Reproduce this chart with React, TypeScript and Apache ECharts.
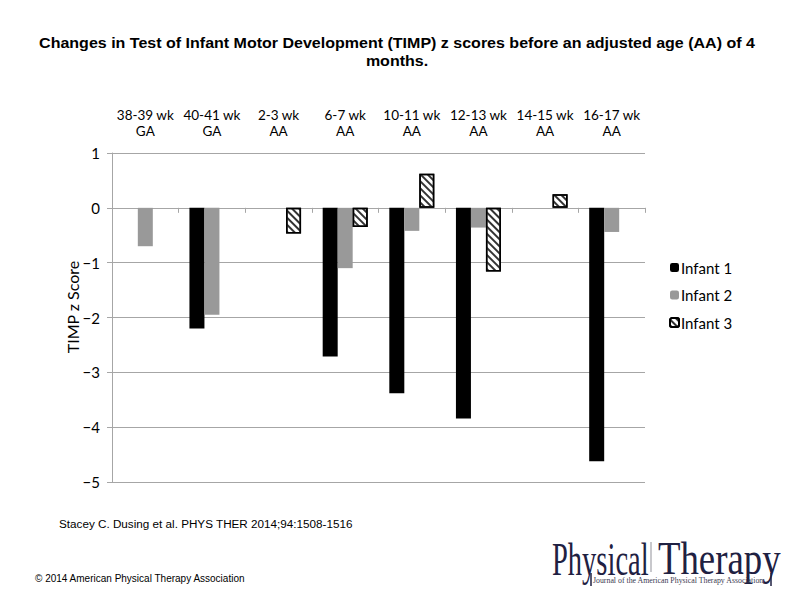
import React, { useEffect, useRef } from "react";
import * as echarts from "echarts";

const categories = [
  "38-39 wk\nGA",
  "40-41 wk\nGA",
  "2-3 wk\nAA",
  "6-7 wk\nAA",
  "10-11 wk\nAA",
  "12-13 wk\nAA",
  "14-15 wk\nAA",
  "16-17 wk\nAA",
];
const infant1 = [null, -2.2, null, -2.71, -3.38, -3.84, null, -4.62];
const infant2 = [-0.7, -1.95, null, -1.1, -0.42, -0.36, null, -0.44];
const infant3 = [null, null, -0.47, -0.35, 0.62, -1.16, 0.25, null];
const yTicks = { min: -5, max: 1, interval: 1 };

const titleText =
  "Changes in Test of Infant Motor Development (TIMP) z scores before an adjusted age (AA) of 4\nmonths.";

export default function App() {
  const ref = useRef<HTMLDivElement>(null);
  useEffect(() => {
    if (!ref.current) return;
    const chart = echarts.init(ref.current, null, { renderer: "svg" });
    const axisFont = "Lato, 'Noto Sans', sans-serif";
    const arial = "'Liberation Sans', Arial, sans-serif";
    const serif = "'Liberation Serif', 'DejaVu Serif', serif";
    chart.setOption({
      animation: false,
      backgroundColor: "#fff",
      legend: {
        orient: "vertical",
        left: 664,
        top: 255,
        itemWidth: 9,
        itemHeight: 9,
        itemGap: 12.5,
        textStyle: { fontFamily: axisFont, fontSize: 15, color: "#000", padding: [0, 0, 0, -3] },
        data: ["Infant 1", "Infant 2", "Infant 3"],
      },
      grid: { left: 112, right: 149, top: 153, bottom: 113, containLabel: false },
      xAxis: [
        {
          type: "category",
          data: categories,
          axisLine: { onZero: true, lineStyle: { color: "#a6a6a6", width: 1 } },
          axisTick: { show: true, length: 5, lineStyle: { color: "#a6a6a6" } },
          axisLabel: { show: false },
          splitLine: { show: false },
        },
        {
          type: "category",
          position: "top",
          data: categories,
          axisLine: { show: false },
          axisTick: { show: false },
          axisLabel: {
            fontFamily: axisFont,
            fontSize: 13.5,
            lineHeight: 16,
            color: "#000",
            margin: 14,
            interval: 0,
          },
        },
      ],
      yAxis: {
        type: "value",
        min: yTicks.min,
        max: yTicks.max,
        interval: yTicks.interval,
        axisLine: { show: true, lineStyle: { color: "#a6a6a6" } },
        axisTick: { show: true, length: 5, lineStyle: { color: "#a6a6a6" } },
        axisLabel: {
          fontFamily: axisFont,
          fontSize: 15,
          color: "#000",
          margin: 12,
          formatter: (v: number) => String(v).replace("-", "\u2212"),
        },
        splitLine: { show: true, lineStyle: { color: "#a6a6a6", width: 1 } },
      },
      series: [
        {
          name: "Infant 1",
          type: "bar",
          data: infant1,
          barWidth: 15,
          barGap: "0%",
          itemStyle: { color: "#000" },
        },
        {
          name: "Infant 2",
          type: "bar",
          data: infant2,
          barWidth: 15,
          barGap: "0%",
          itemStyle: { color: "#999999" },
        },
        {
          name: "Infant 3",
          type: "bar",
          data: infant3,
          barWidth: 15,
          barGap: "0%",
          itemStyle: {
            color: "#ffffff",
            borderColor: "#000",
            borderWidth: 1.5,
            decal: {
              symbol: "rect",
              symbolSize: 1,
              dashArrayX: [1, 0],
              dashArrayY: [1.2, 2.8],
              rotation: Math.PI / 4,
              color: "#333",
              backgroundColor: "#fff",
            },
          },
        },
      ],
      graphic: [
        {
          type: "text",
          x: 397,
          y: 34,
          scaleX: 1.145,
          style: {
            text: titleText,
            fontFamily: arial,
            fontSize: 14,
            fontWeight: "bold",
            lineHeight: 18,
            align: "center",
            verticalAlign: "top",
            fill: "#000",
          },
        },
        {
          type: "text",
          x: 72,
          y: 307,
          rotation: Math.PI / 2,
          style: {
            text: "TIMP z Score",
            fontFamily: axisFont,
            fontSize: 16,
            align: "center",
            verticalAlign: "middle",
            fill: "#000",
          },
        },
        {
          type: "text",
          left: 59,
          top: 517,
          style: {
            text: "Stacey C. Dusing et al. PHYS THER 2014;94:1508-1516",
            fontFamily: arial,
            fontSize: 11.7,
            fill: "#000",
          },
        },
        {
          type: "text",
          left: 35,
          top: 573,
          style: {
            text: "\u00a9 2014 American Physical Therapy Association",
            fontFamily: arial,
            fontSize: 10,
            fill: "#000",
          },
        },
        {
          type: "group",
          x: 552,
          y: 536,
          children: [
            {
              type: "text",
              x: 0,
              y: 0,
              scaleX: 0.62,
              style: {
                text: "Physical",
                fontFamily: serif,
                fontSize: 46,
                fill: "#1f2142",
              },
            },
            {
              type: "text",
              x: 106,
              y: 0,
              scaleX: 0.8,
              style: {
                text: "Therapy",
                fontFamily: serif,
                fontSize: 46,
                fill: "#1f2142",
              },
            },
            {
              type: "text",
              x: 41,
              y: 40,
              scaleX: 0.98,
              style: {
                text: "Journal of the American Physical Therapy Association",
                fontFamily: serif,
                fontSize: 8,
                fill: "#3a3a50",
              },
            },
            {
              type: "line",
              shape: { x1: 39, y1: 37, x2: 39, y2: 50 },
              style: { stroke: "#1f2142", lineWidth: 1.5 },
            },
            {
              type: "line",
              shape: { x1: 219, y1: 37, x2: 219, y2: 50 },
              style: { stroke: "#1f2142", lineWidth: 1.5 },
            },
            {
              type: "line",
              shape: { x1: 99, y1: 6, x2: 99, y2: 36 },
              style: { stroke: "#c8c8cc", lineWidth: 2 },
            },
          ],
        },
      ],
    });
    return () => chart.dispose();
  }, []);
  return (
    <div
      ref={ref}
      style={{ position: "fixed", left: 0, top: 0, width: 794, height: 595 }}
    />
  );
}
